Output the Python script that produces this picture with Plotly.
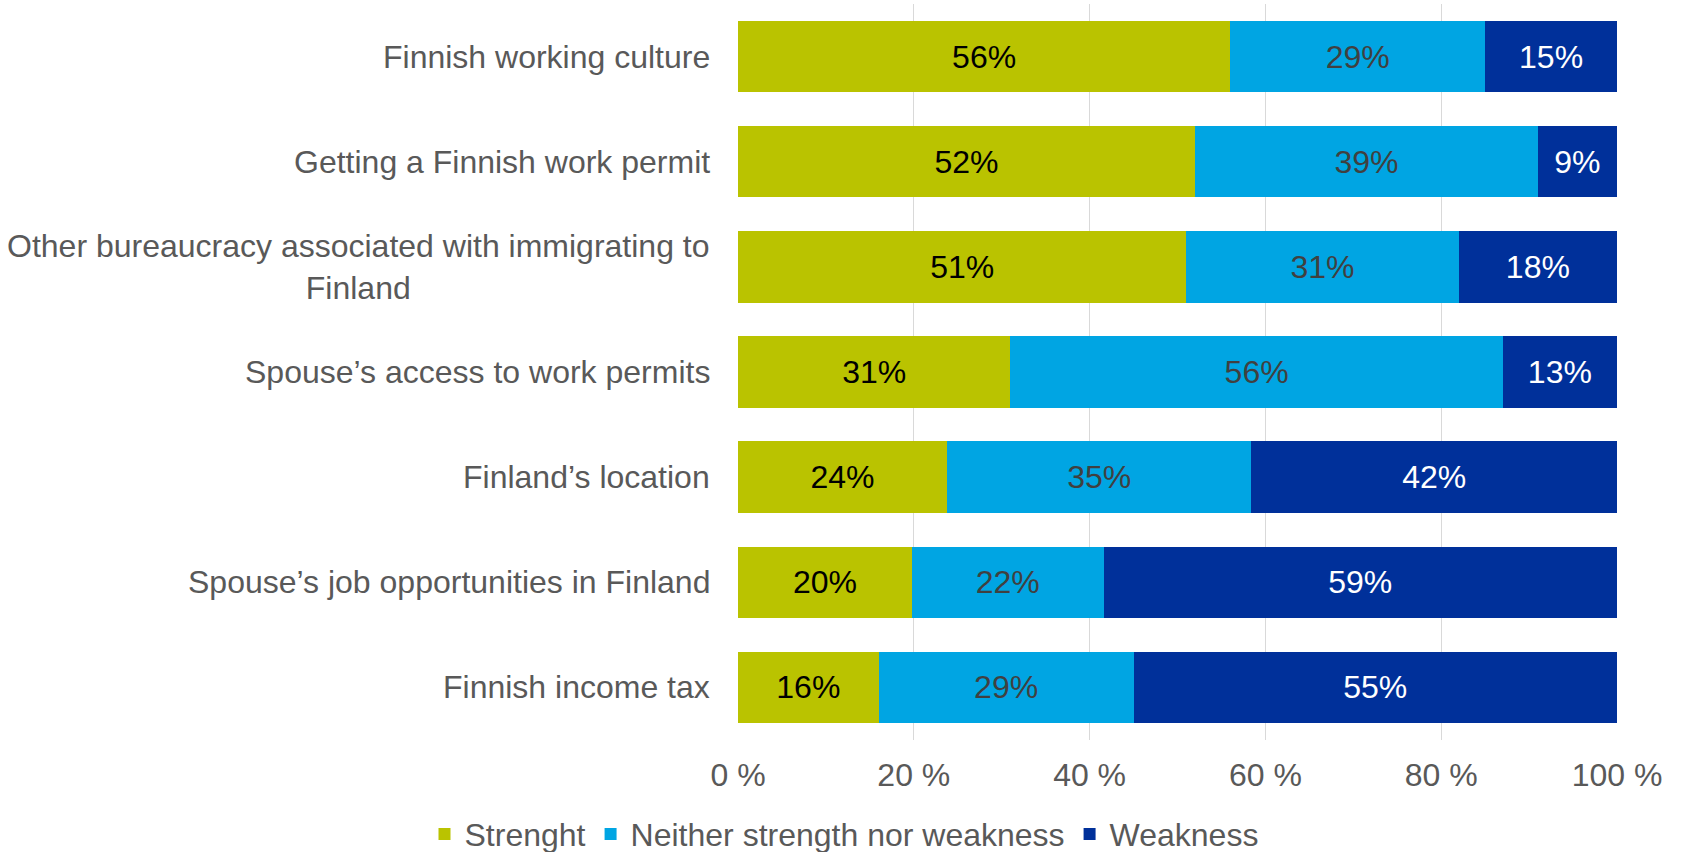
"""Stacked 100% bar chart: strengths and weaknesses of Finland"""
import plotly.graph_objects as go

categories = [
    "Finnish working culture",
    "Getting a Finnish work permit",
    "Other bureaucracy associated with immigrating to<br>Finland",
    "Spouse’s access to work permits",
    "Finland’s location",
    "Spouse’s job opportunities in Finland",
    "Finnish income tax",
]
strength = [56, 52, 51, 31, 24, 20, 16]
neither = [29, 39, 31, 56, 35, 22, 29]
weakness = [15, 9, 18, 13, 42, 59, 55]
x_ticks = [0, 20, 40, 60, 80, 100]

series = [
    ("Strenght", strength, "#bac300", "#000000"),
    ("Neither strength nor weakness", neither, "#00a5e3", "#404040"),
    ("Weakness", weakness, "#00309a", "#ffffff"),
]

FONT = "Liberation Sans, Arial, sans-serif"
GREY = "#595959"
SIZE = 32

fig = go.Figure()
for name, values, color, text_color in series:
    fig.add_trace(go.Bar(
        y=categories,
        x=values,
        name=name,
        orientation="h",
        marker=dict(color=color, line=dict(width=0)),
        text=[f"{v}%" for v in values],
        textposition="inside",
        insidetextanchor="middle",
        textfont=dict(family=FONT, size=SIZE, color=text_color),
        hoverinfo="skip",
    ))

# category labels as centred annotations (multi-line labels are centred)
annotations = [
    dict(
        text=cat, x=0, xref="paper", xanchor="right", xshift=-26,
        y=cat, yref="y", yanchor="middle", showarrow=False, align="center",
        font=dict(family=FONT, size=SIZE, color=GREY),
    )
    for cat in categories
]

fig.update_layout(
    width=1688,
    height=852,
    barmode="stack",
    barnorm="percent",
    bargap=0.32,
    plot_bgcolor="white",
    paper_bgcolor="white",
    margin=dict(l=738, r=71, t=4, b=112),
    font=dict(family=FONT, size=SIZE, color=GREY),
    uniformtext=dict(minsize=10, mode="show"),
    annotations=annotations,
    xaxis=dict(
        range=[0, 100],
        tickmode="array",
        tickvals=x_ticks,
        ticktext=[f"{v} %" for v in x_ticks],
        showgrid=True,
        gridcolor="#d9d9d9",
        gridwidth=1,
        zeroline=False,
        showline=False,
        ticks="",
        ticklabelstandoff=13,
        tickfont=dict(family=FONT, size=SIZE, color=GREY),
    ),
    yaxis=dict(
        autorange="reversed",
        showticklabels=False,
        showgrid=False,
        zeroline=False,
        showline=False,
    ),
    legend=dict(
        orientation="h",
        xref="container", yref="container",
        x=0.5, xanchor="center",
        y=0.021, yanchor="middle",
        font=dict(family=FONT, size=SIZE, color=GREY),
        traceorder="normal",
    ),
)

fig.write_html(
    "out.html",
    config={"displayModeBar": False},
    post_script="document.body.style.margin='0px';",
)
